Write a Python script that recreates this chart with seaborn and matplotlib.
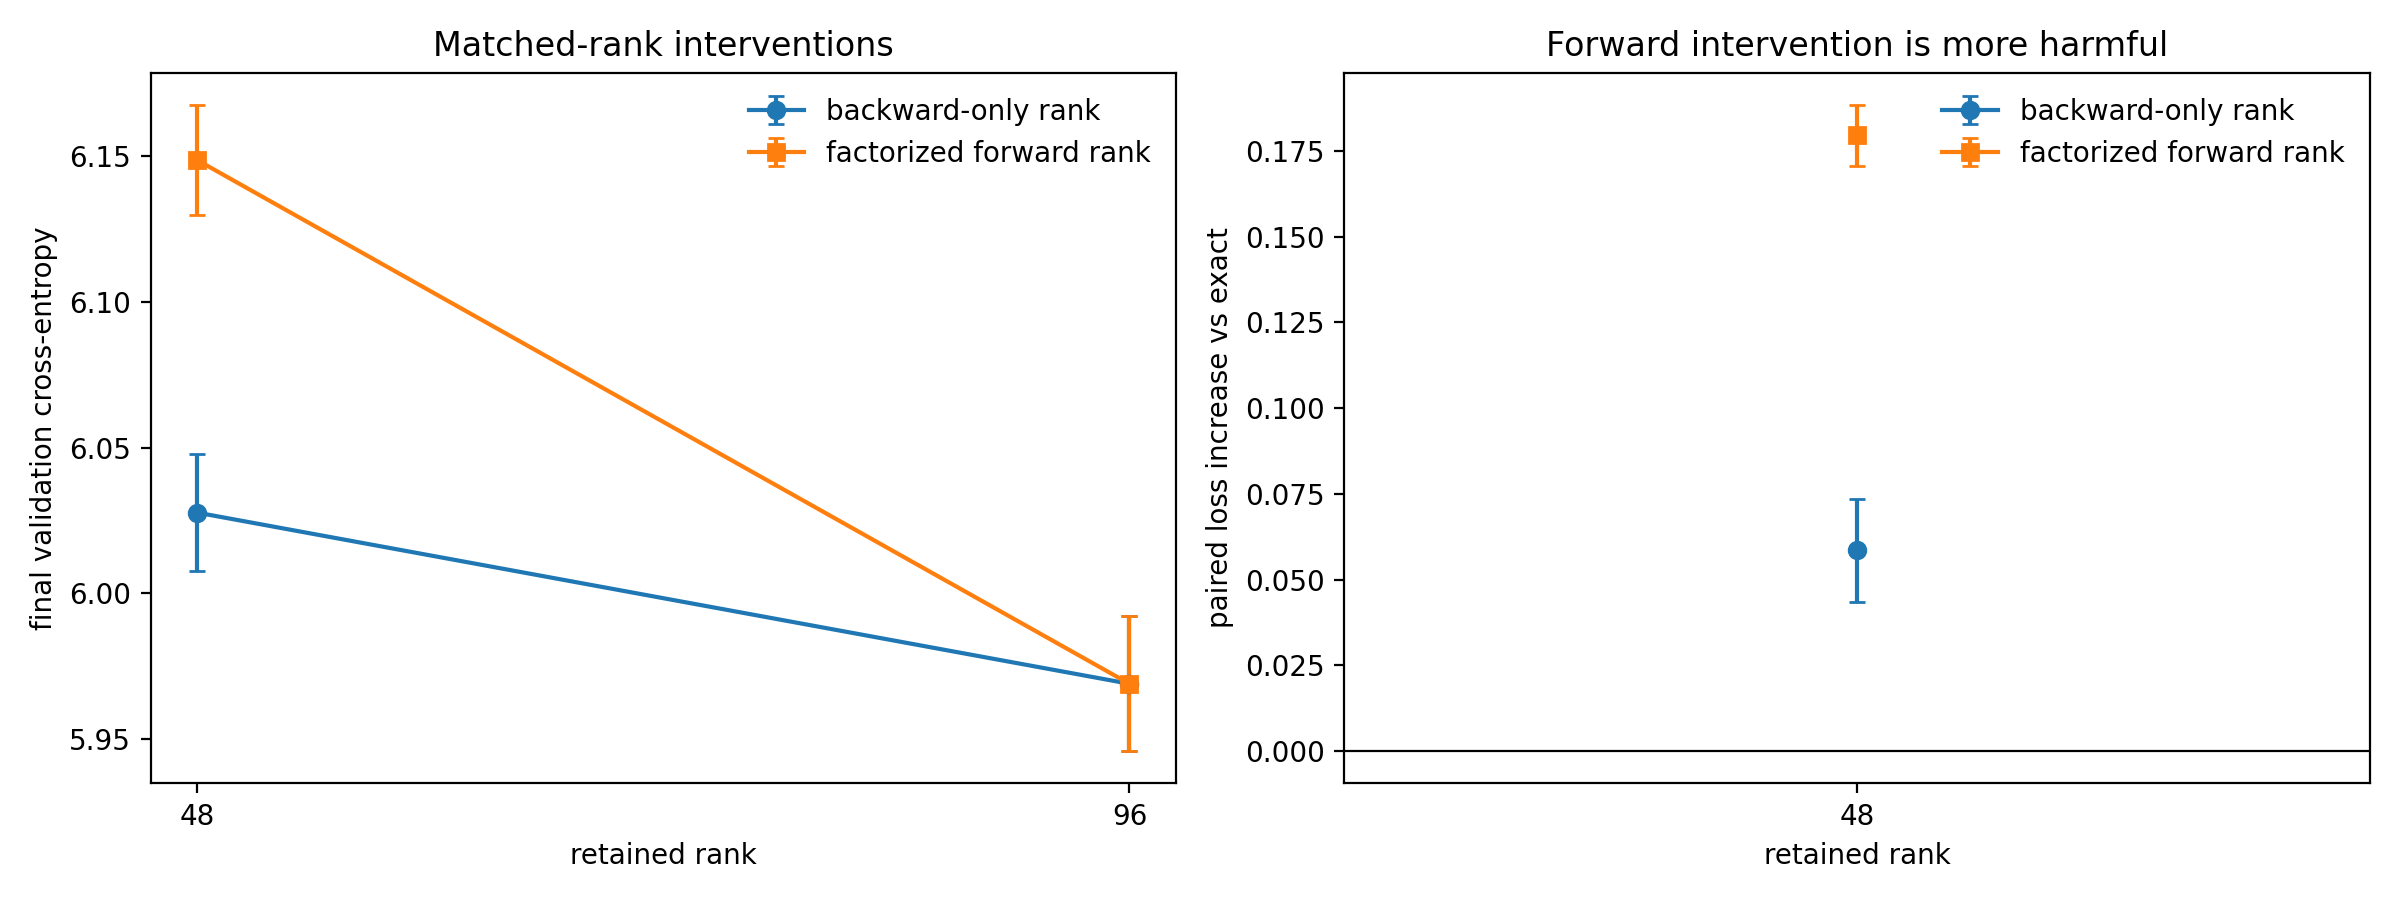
import numpy as np
import pandas as pd
import matplotlib
matplotlib.use("Agg")
import matplotlib.pyplot as plt
import seaborn as sns

# valores
ranks = [48, 96]
backward_ce = [6.0277, 5.9690]
backward_ce_err = [0.0200, 0.0231]
forward_ce = [6.1486, 5.9690]
forward_ce_err = [0.0189, 0.0231]

delta_ranks = [48]
backward_delta = [0.0585]
backward_delta_err = [0.0151]
forward_delta = [0.1795]
forward_delta_err = [0.0089]

series_labels = ["backward-only rank", "factorized forward rank"]

cores = sns.color_palette("tab10", 2)

fig, axes = plt.subplots(1, 2, figsize=(12, 4.5), dpi=200)

# painel esquerdo
ax = axes[0]
ax.errorbar(ranks, backward_ce, yerr=backward_ce_err, marker="o", capsize=3,
            color=cores[0], label=series_labels[0])
ax.errorbar(ranks, forward_ce, yerr=forward_ce_err, marker="s", capsize=3,
            color=cores[1], label=series_labels[1])
ax.set_xticks(ranks)
ax.set_xlabel("retained rank")
ax.set_ylabel("final validation cross-entropy")
ax.set_title("Matched-rank interventions")
ax.legend(frameon=False, loc="upper right")

# painel direito
ax = axes[1]
ax.errorbar(delta_ranks, backward_delta, yerr=backward_delta_err, marker="o", capsize=3,
            color=cores[0], label=series_labels[0])
ax.errorbar(delta_ranks, forward_delta, yerr=forward_delta_err, marker="s", capsize=3,
            color=cores[1], label=series_labels[1])
ax.axhline(0, color="black", linewidth=0.8)
ax.set_xticks(delta_ranks)
ax.set_xlabel("retained rank")
ax.set_ylabel("paired loss increase vs exact")
ax.set_title("Forward intervention is more harmful")
ax.legend(frameon=False, loc="upper right")

plt.tight_layout()
plt.savefig("out.png")
